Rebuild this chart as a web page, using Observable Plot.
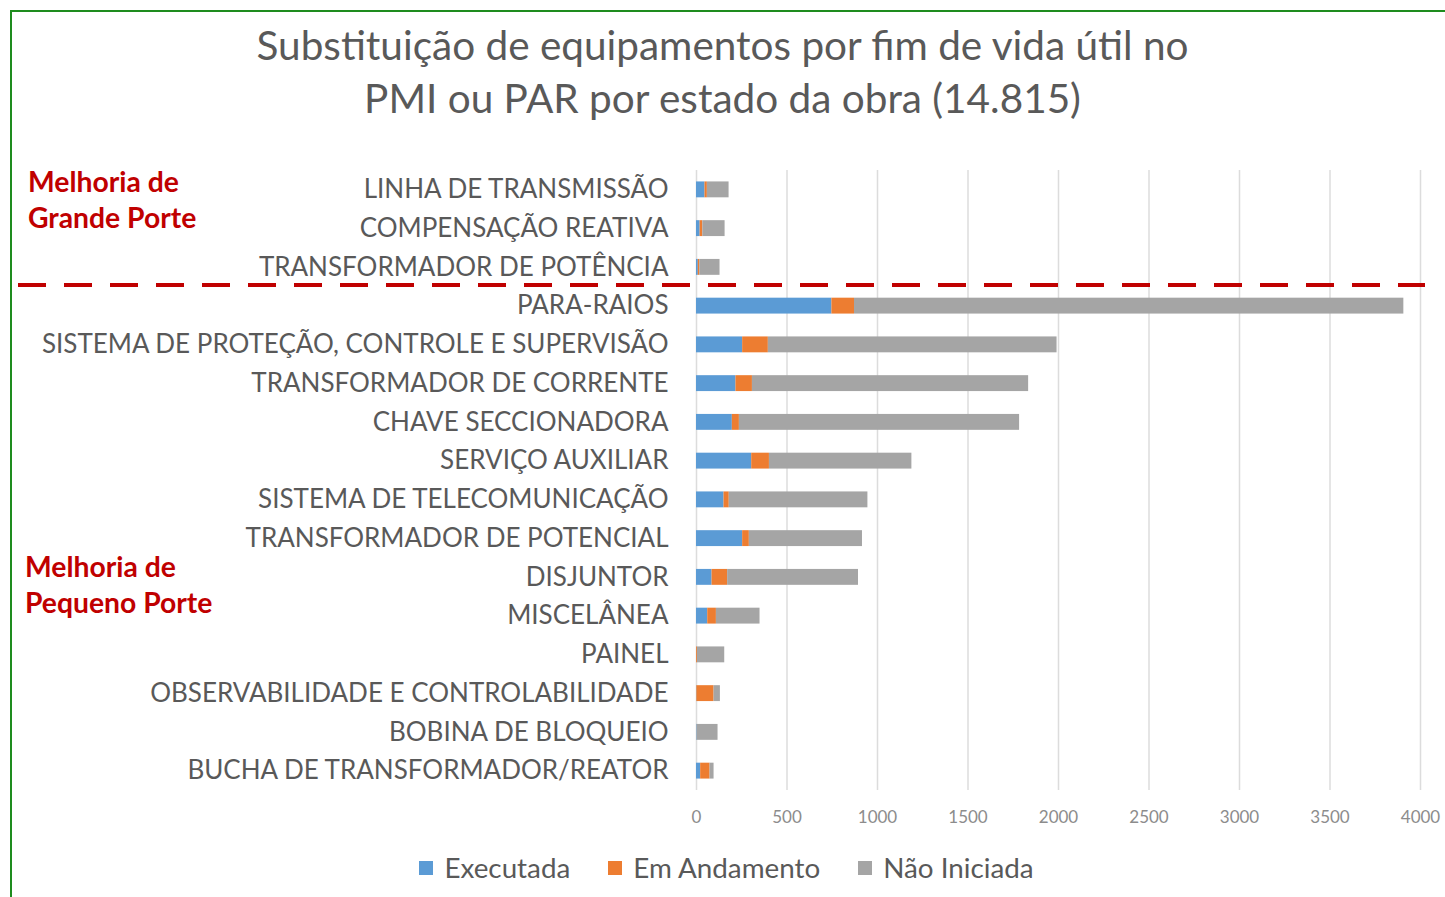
<!DOCTYPE html>
<html>
<head>
<meta charset="utf-8">
<script src="https://cdn.jsdelivr.net/npm/d3@7"></script>
<script src="https://cdn.jsdelivr.net/npm/@observablehq/plot@0.6"></script>
<style>
  html, body { margin: 0; padding: 0; background: #fff; }
  body { width: 1445px; height: 897px; position: relative; overflow: hidden; font-family: Lato, "Open Sans", sans-serif; }
  #frame { position: absolute; left: 10px; top: 10px; width: 1500px; height: 1000px; border-top: 2px solid #1e8c1e; border-left: 2px solid #1e8c1e; }
  #title { position: absolute; left: 0; width: 1445px; top: 18px; text-align: center; color: #595959; font-size: 40.5px; line-height: 53px; }
  #chart { position: absolute; left: 0; top: 150px; }
  .note { position: absolute; color: #c00000; font-weight: bold; font-size: 28.3px; line-height: 36px; }
  #sep { position: absolute; left: 18px; width: 1407px; top: 283px; height: 4px; background: repeating-linear-gradient(to right, #c00000 0 28px, transparent 28px 46px); }
  #legend { position: absolute; top: 850px; left: 0; width: 1445px; display: flex; justify-content: center; padding-left: 8px; box-sizing: border-box; color: #595959; font-size: 27.8px; line-height: 36px; }
  #legend .item { display: flex; align-items: center; margin: 0 19px; }
  #legend .sw { width: 14px; height: 14px; margin-right: 11px; }
</style>
</head>
<body>
<div id="frame"></div>
<div id="title">Substituição de equipamentos por fim de vida útil no<br>PMI ou PAR por estado da obra (14.815)</div>
<div id="chart"></div>
<div class="note" style="left:28px; top:163px;">Melhoria de<br>Grande Porte</div>
<div class="note" style="left:25px; top:548px;">Melhoria de<br>Pequeno Porte</div>
<div id="sep"></div>
<div id="legend"></div>
<script>
const categories = [
  "LINHA DE TRANSMISSÃO",
  "COMPENSAÇÃO REATIVA",
  "TRANSFORMADOR DE POTÊNCIA",
  "PARA-RAIOS",
  "SISTEMA DE PROTEÇÃO, CONTROLE E SUPERVISÃO",
  "TRANSFORMADOR DE CORRENTE",
  "CHAVE SECCIONADORA",
  "SERVIÇO AUXILIAR",
  "SISTEMA DE TELECOMUNICAÇÃO",
  "TRANSFORMADOR DE POTENCIAL",
  "DISJUNTOR",
  "MISCELÂNEA",
  "PAINEL",
  "OBSERVABILIDADE E CONTROLABILIDADE",
  "BOBINA DE BLOQUEIO",
  "BUCHA DE TRANSFORMADOR/REATOR"
];
const executada   = [47, 20, 10, 748, 255, 218, 198, 305, 152, 255, 86, 62, 0, 2, 3, 23];
const emAndamento = [13, 15, 8, 125, 142, 91, 39, 98, 29, 37, 86, 48, 5, 95, 0, 52];
const naoIniciada = [120, 123, 112, 3035, 1595, 1526, 1548, 787, 766, 625, 723, 241, 151, 35, 116, 22];
const seriesNames = ["Executada", "Em Andamento", "Não Iniciada"];
const seriesColors = ["#5b9bd5", "#ed7d31", "#a5a5a5"];
const xTicks = [0, 500, 1000, 1500, 2000, 2500, 3000, 3500, 4000];

const seriesValues = [executada, emAndamento, naoIniciada];
const data = [];
categories.forEach((c, i) => {
  seriesNames.forEach((s, j) => data.push({category: c, series: s, value: seriesValues[j][i]}));
});

const chart = Plot.plot({
  width: 1445,
  height: 680,
  marginLeft: 696,
  marginRight: 25,
  marginTop: 20,
  marginBottom: 40,
  style: {fontFamily: "Lato, 'Open Sans', sans-serif", color: "#595959", background: "transparent"},
  x: {domain: [0, 4000], ticks: xTicks, label: null},
  y: {domain: categories, label: null, paddingInner: 0.59, paddingOuter: 0.295, round: false},
  color: {domain: seriesNames, range: seriesColors},
  marks: [
    Plot.gridX(xTicks, {stroke: "#dcdcdc", strokeOpacity: 1, strokeWidth: 1.5}),
    Plot.barX(data, {x: "value", y: "category", fill: "series"}),
    Plot.axisX({ticks: xTicks, tickSize: 0, tickPadding: 20, fontSize: 17, fill: "#8c8c8c", tickFormat: d => String(d), label: null}),
    Plot.axisY({tickSize: 0, tickPadding: 28, fontSize: 26, fill: "#595959", label: null})
  ]
});
document.getElementById("chart").appendChild(chart);

const legend = document.getElementById("legend");
seriesNames.forEach((s, i) => {
  const item = document.createElement("div");
  item.className = "item";
  const sw = document.createElement("div");
  sw.className = "sw";
  sw.style.background = seriesColors[i];
  const t = document.createElement("span");
  t.textContent = s;
  item.appendChild(sw);
  item.appendChild(t);
  legend.appendChild(item);
});
</script>
</body>
</html>
